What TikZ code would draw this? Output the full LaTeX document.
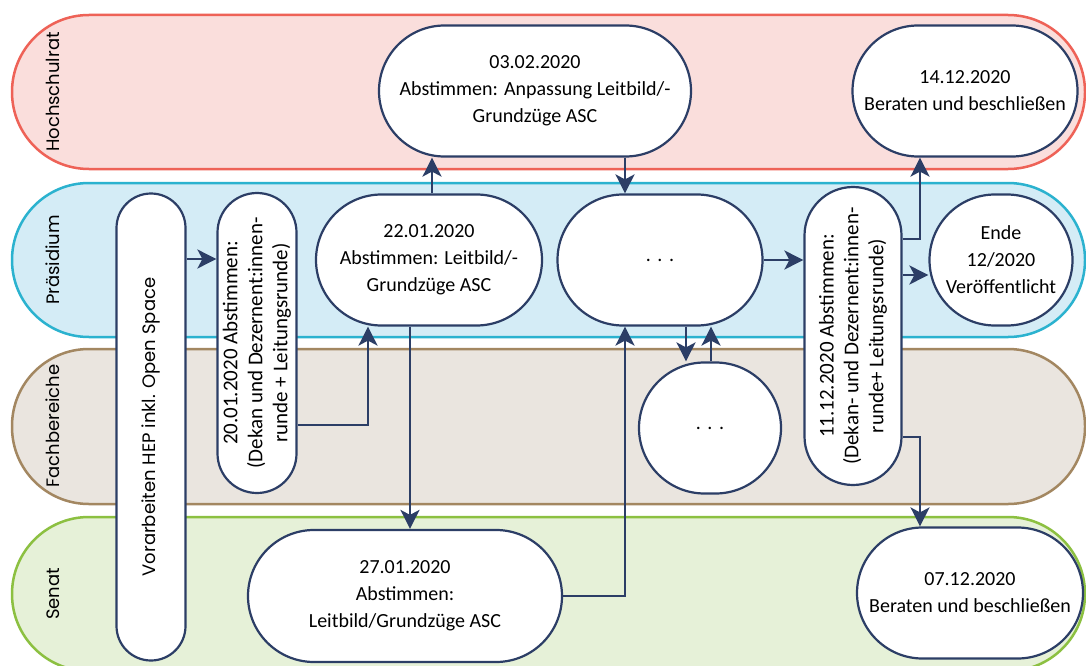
\documentclass[tikz,border=0pt]{standalone}
\usepackage{fontspec}
\setmainfont{Carlito}
\newfontfamily\lanefont{Poppins}
\usetikzlibrary{shapes.misc,arrows.meta}
\definecolor{hsrF}{HTML}{FADEDC}
\definecolor{hsrD}{HTML}{EE6257}
\definecolor{praF}{HTML}{D4ECF6}
\definecolor{praD}{HTML}{2BB2CF}
\definecolor{fbF}{HTML}{EAE5DF}
\definecolor{fbD}{HTML}{A38761}
\definecolor{senF}{HTML}{E6F1D8}
\definecolor{senD}{HTML}{8CC041}
\definecolor{navy}{HTML}{2C3E66}
\begin{document}
\begin{tikzpicture}[x=1pt,y=-1pt,
  lane/.style={line width=2.5pt, rounded corners=76.9pt},
  lanelabel/.style={rotate=90, font=\lanefont\fontsize{18}{22}\selectfont, inner sep=0pt},
  stage/.style={rounded rectangle, draw=navy, line width=2.2pt, fill=white, inner sep=0pt, align=center, font=\fontsize{20}{27}\selectfont},
  vstage/.style={stage, rotate=90, font=\fontsize{21}{25}\selectfont},
  arr/.style={draw=navy, line width=2.2pt, -{Stealth[length=19pt,width=19pt,inset=5pt]}}]
\clip (0,0) rectangle (1086,666);
\fill[white] (0,0) rectangle (1086,666);
% lanes
\draw[lane, draw=hsrD, fill=hsrF] (12,15) rectangle (1085,169);
\draw[lane, draw=praD, fill=praF] (12,183) rectangle (1085,337);
\draw[lane, draw=fbD, fill=fbF] (12,349) rectangle (1085,504);
\draw[lane, draw=senD, fill=senF] (12,517) rectangle (1085,671);
\node[lanelabel] (l1) at (53,92) {Hochschulrat};
\node[lanelabel] (l2) at (53,260) {Präsidium};
\node[lanelabel] (l3) at (53,426) {Fachbereiche};
\node[lanelabel] (l4) at (53,594) {Senat};
% nodes
\node[stage, minimum width=312pt, minimum height=131pt] (A) at (535,91) {03.02.2020\\Abstimmen: Anpassung Leitbild/-\\Grundzüge ASC};
\node[stage, minimum width=225pt, minimum height=131pt] (B) at (965,91) {14.12.2020\\Beraten und beschließen};
\node[stage, rotate=90, font=\lanefont\fontsize{18}{22}\selectfont, minimum width=467pt, minimum height=69pt] (C) at (151,427) {Vorarbeiten HEP inkl. Open Space};
\node[vstage, minimum width=300pt, minimum height=79pt] (D) at (257,343) {20.01.2020 Abstimmen:\\(Dekan und Dezernent:innen-\\runde + Leitungsrunde)};
\node[stage, minimum width=226pt, minimum height=131pt] (E) at (429,260) {22.01.2020\\Abstimmen: Leitbild/-\\Grundzüge ASC};
\node[stage, minimum width=205pt, minimum height=131pt] (F) at (660,260) {.\,\,.\,\,.};
\node[stage, minimum width=142pt, minimum height=131pt] (G) at (710,428) {.\,\,.\,\,.};
\node[vstage, minimum width=298pt, minimum height=97pt] (H) at (853,336) {11.12.2020 Abstimmen:\\(Dekan- und Dezernent:innen-\\runde+ Leitungsrunde)};
\node[stage, minimum width=143pt, minimum height=131pt] (I) at (1001,260) {Ende\\12/2020\\Veröffentlicht};
\node[stage, minimum width=226pt, minimum height=131pt] (J) at (970,593) {07.12.2020\\Beraten und beschließen};
\node[stage, minimum width=314pt, minimum height=132pt] (K) at (405,596) {27.01.2020\\Abstimmen:\\Leitbild/Grundzüge ASC};
% helper coordinates
\coordinate (y239) at (0,239);
\coordinate (y259) at (0,259);
\coordinate (y275) at (0,275);
\coordinate (y425) at (0,425);
\coordinate (y437) at (0,437);
\coordinate (x368) at (368,0);
\coordinate (x410) at (410,0);
\coordinate (x432) at (432,0);
\coordinate (x625) at (625,0);
\coordinate (x686) at (686,0);
\coordinate (x711) at (711,0);
\coordinate (x920) at (920,0);
% connectors
\draw[arr] (C.south |- y259) -- (D.north |- y259);
\draw[arr] (D.south |- y425) -| (x368 |- E.south);
\draw[arr] (x432 |- E.north) -- (x432 |- A.south);
\draw[arr] (x410 |- E.south) -- (x410 |- K.north);
\draw[arr] (x625 |- A.south) -- (x625 |- F.north);
\draw[arr] (F.east) -- (H.north |- F.east);
\draw[arr] (x686 |- F.south) -- (x686 |- G.north);
\draw[arr] (x711 |- G.north) -- (x711 |- F.south);
\draw[arr] (K.east) -| (x625 |- F.south);
\draw[arr] (H.south |- y275) -- (I.west |- y275);
\draw[arr] (H.south |- y239) -| (x920 |- B.south);
\draw[arr] (H.south |- y437) -| (x920 |- J.north);
\end{tikzpicture}
\end{document}
